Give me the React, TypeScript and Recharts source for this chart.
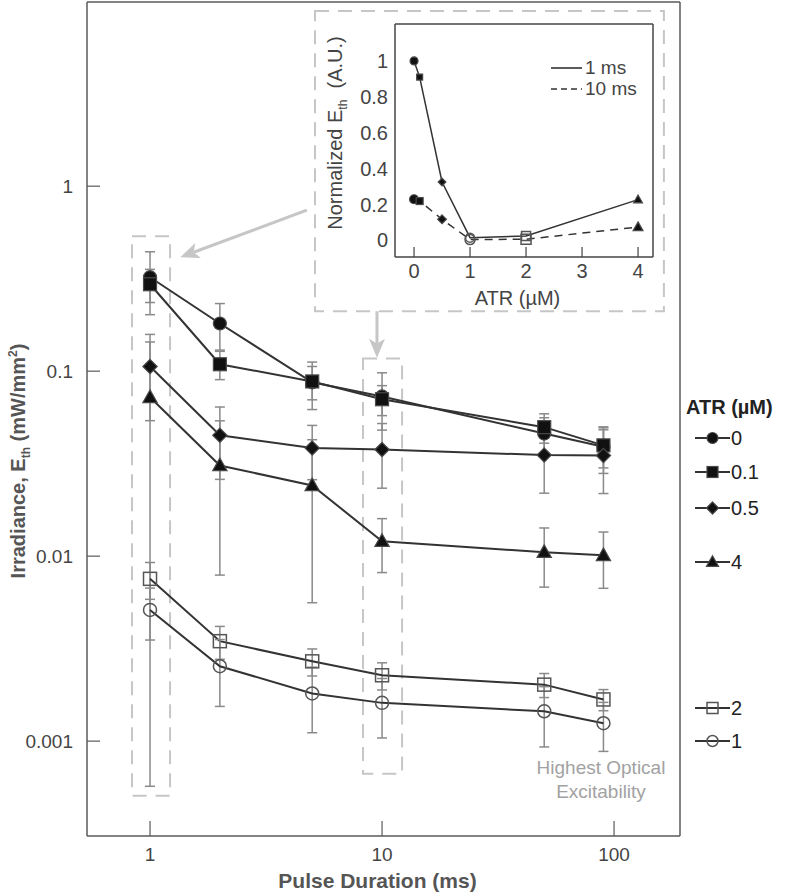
import React from "react";
import {
  LineChart,
  Line,
  XAxis,
  YAxis,
  ErrorBar,
  ReferenceArea,
  ReferenceLine,
  Legend,
} from "recharts";

// main panel: threshold irradiance vs pulse duration, one curve per ATR level
const pulseDurations = [1, 2, 5, 10, 50, 90];
const atrLevels = ["0", "0.1", "0.5", "4", "2", "1"];

const eth0 = [0.322, 0.181, 0.087, 0.073, 0.046, 0.039];
const sd0 = [0.12, 0.051, 0.025, 0.025, 0.01, 0.011];
const eth01 = [0.295, 0.109, 0.088, 0.0705, 0.0498, 0.0397];
const sd01 = [0.06, 0.019, 0.018, 0.013, 0.009, 0.0097];
const eth05 = [0.106, 0.045, 0.0384, 0.0377, 0.0352, 0.035];
const sd05 = [0.052, 0.019, 0.0125, 0.0144, 0.0133, 0.0132];
const eth4 = [0.0722, 0.0309, 0.0241, 0.01205, 0.0105, 0.0101];
const sd4 = [0.07163, 0.023, 0.0185, 0.0039, 0.0037, 0.0034];
const eth2 = [0.00754, 0.00347, 0.0027, 0.00227, 0.00202, 0.00168];
const sd2 = [0.0017, 0.0007, 0.00045, 0.00038, 0.0003, 0.00022];
const eth1 = [0.00512, 0.00254, 0.00181, 0.00161, 0.00145, 0.00125];
const sd1 = [0.0016, 0.001, 0.0007, 0.00057, 0.00052, 0.00037];

const durationTicks = [1, 10, 100];
const irradianceTicks = [0.001, 0.01, 0.1, 1];

// inset: normalized threshold vs ATR concentration
const atrConc = [0, 0.1, 0.5, 1, 2, 4];
const norm1ms = [1.0, 0.91, 0.325, 0.015, 0.024, 0.227];
const norm10ms = [0.229, 0.219, 0.117, 0.004, 0.006, 0.074];
const normTicks = [0, 0.2, 0.4, 0.6, 0.8, 1];
const atrTicks = [0, 1, 2, 3, 4];

const FONT = '"Liberation Sans", Arial, sans-serif';
const FRAME = "#5a5a5a";
const LINE = "#333";
const BAR = "#8a8a8a";
const ANNOT = "#c6c6c6";

type Shape = "circle" | "square" | "diamond" | "triangle" | "openSquare" | "openCircle";

const SHAPES: Record<string, Shape> = {
  "0": "circle",
  "0.1": "square",
  "0.5": "diamond",
  "4": "triangle",
  "2": "openSquare",
  "1": "openCircle",
};

const INSET_SIZE: Record<Shape, number> = {
  circle: 8,
  square: 6,
  diamond: 7,
  triangle: 8,
  openSquare: 9,
  openCircle: 9,
};

const LEGEND_ROWS = [438, 472, 508, 562, 708, 741];

const ethBySeries = [eth0, eth01, eth05, eth4, eth2, eth1];
const sdBySeries = [sd0, sd01, sd05, sd4, sd2, sd1];

const series = atrLevels.map((atr, s) => ({
  atr,
  shape: SHAPES[atr],
  data: pulseDurations.map((t, i) => ({
    t,
    v: ethBySeries[s][i],
    e: sdBySeries[s][i],
  })),
}));

const insetData1 = atrConc.map((c, i) => ({ c, v: norm1ms[i] }));
const insetData10 = atrConc.map((c, i) => ({ c, v: norm10ms[i] }));

function Marker({ shape, cx, cy, size }: { shape: Shape; cx?: number; cy?: number; size: number }) {
  if (cx == null || cy == null || isNaN(cx) || isNaN(cy)) return null;
  const h = size / 2;
  const filled = { fill: "#111", stroke: "#4a4a4a", strokeWidth: 1.2 };
  const open = { fill: "none", stroke: "#555", strokeWidth: 1.5 };
  switch (shape) {
    case "circle":
      return <circle cx={cx} cy={cy} r={h} {...filled} />;
    case "square":
      return <rect x={cx - h} y={cy - h} width={size} height={size} {...filled} />;
    case "diamond":
      return (
        <polygon
          points={`${cx},${cy - h * 1.1} ${cx + h * 1.1},${cy} ${cx},${cy + h * 1.1} ${cx - h * 1.1},${cy}`}
          {...filled}
        />
      );
    case "triangle":
      return (
        <polygon
          points={`${cx},${cy - h * 1.15} ${cx + h * 1.1},${cy + h * 0.8} ${cx - h * 1.1},${cy + h * 0.8}`}
          {...filled}
        />
      );
    case "openSquare":
      return <rect x={cx - h} y={cy - h} width={size} height={size} {...open} />;
    default:
      return <circle cx={cx} cy={cy} r={h} {...open} />;
  }
}

function Arrow(props: any) {
  const { x1, y1, x2, y2 } = props;
  if ([x1, y1, x2, y2].some((v) => v == null || isNaN(v))) return null;
  const ang = Math.atan2(y2 - y1, x2 - x1);
  const len = 19;
  const half = 8;
  const bx = x2 - len * Math.cos(ang);
  const by = y2 - len * Math.sin(ang);
  const nx = -Math.sin(ang) * half;
  const ny = Math.cos(ang) * half;
  const notchX = x2 - len * 0.75 * Math.cos(ang);
  const notchY = y2 - len * 0.75 * Math.sin(ang);
  return (
    <g>
      <line x1={x1} y1={y1} x2={notchX} y2={notchY} stroke={ANNOT} strokeWidth={3} />
      <polygon
        points={`${x2},${y2} ${bx + nx},${by + ny} ${notchX},${notchY} ${bx - nx},${by - ny}`}
        fill={ANNOT}
      />
    </g>
  );
}

const dashBox = {
  fill: "none",
  fillOpacity: 0,
  stroke: ANNOT,
  strokeWidth: 2,
  strokeDasharray: "14 9",
  ifOverflow: "visible" as const,
};

function AtrLegend() {
  return (
    <div style={{ position: "relative", width: 93, height: 370, fontFamily: FONT, color: "#222" }}>
      <div style={{ position: "absolute", left: -8, top: 0, fontWeight: 700, fontSize: 20, lineHeight: "28px", whiteSpace: "nowrap" }}>
        ATR (µM)
      </div>
      {series.map((s, i) => (
        <div
          key={s.atr}
          style={{
            position: "absolute",
            left: 0,
            top: LEGEND_ROWS[i] - 393 - 12,
            height: 24,
            display: "flex",
            alignItems: "center",
            whiteSpace: "nowrap",
          }}
        >
          <svg width={37} height={24}>
            <line x1={1} y1={12} x2={36} y2={12} stroke={LINE} strokeWidth={1.8} />
            <Marker shape={s.shape} cx={18.5} cy={12} size={11} />
          </svg>
          <span style={{ fontSize: 20, lineHeight: "24px" }}>{s.atr}</span>
        </div>
      ))}
    </div>
  );
}

function InsetLegend() {
  return (
    <div style={{ fontFamily: FONT, color: "#444", fontSize: 19 }}>
      {[
        { label: "1 ms", dash: undefined },
        { label: "10 ms", dash: "6 4" },
      ].map((r) => (
        <div key={r.label} style={{ display: "flex", alignItems: "center", height: 21 }}>
          <svg width={36} height={21}>
            <line x1={2} y1={11} x2={33} y2={11} stroke={LINE} strokeWidth={1.6} strokeDasharray={r.dash} />
          </svg>
          <span style={{ lineHeight: "21px" }}>{r.label}</span>
        </div>
      ))}
    </div>
  );
}

export default function App() {
  return (
    <div style={{ position: "absolute", left: 0, top: 0, width: 787, height: 895, background: "#fff" }}>
      <LineChart width={787} height={895} margin={{ top: 1, right: 0, bottom: 0, left: 0 }}>
        <XAxis
          xAxisId="top"
          orientation="top"
          dataKey="t"
          type="number"
          scale="log"
          domain={[0.535, 192.4]}
          allowDataOverflow
          height={1}
          tick={false}
          tickLine={false}
          axisLine={{ stroke: FRAME, strokeWidth: 1.5 }}
        />
        <XAxis
          dataKey="t"
          type="number"
          scale="log"
          domain={[0.535, 192.4]}
          allowDataOverflow
          ticks={durationTicks}
          interval={0}
          height={59}
          tickSize={-15}
          tickMargin={27}
          tick={{ fill: "#444", fontSize: 19, fontFamily: FONT }}
          tickLine={{ stroke: FRAME, strokeWidth: 1.2 }}
          axisLine={{ stroke: FRAME, strokeWidth: 1.5 }}
          label={(p: any) => (
            <text
              x={p.viewBox.x + p.viewBox.width / 2 - 6}
              y={888}
              textAnchor="middle"
              fill="#555"
              fontSize={21}
              fontWeight={700}
              fontFamily={FONT}
            >
              Pulse Duration (ms)
            </text>
          )}
        />
        <YAxis
          type="number"
          scale="log"
          domain={[0.000307, 9.9]}
          allowDataOverflow
          ticks={irradianceTicks}
          interval={0}
          width={87}
          tickSize={-13}
          tickMargin={27}
          tickFormatter={(v: number) => String(v)}
          tick={{ fill: "#444", fontSize: 19, fontFamily: FONT }}
          tickLine={{ stroke: FRAME, strokeWidth: 1.2 }}
          axisLine={{ stroke: FRAME, strokeWidth: 1.5 }}
          label={() => (
            <text
              transform="translate(25,461) rotate(-90)"
              textAnchor="middle"
              fill="#555"
              fontSize={20}
              fontWeight={700}
              fontFamily={FONT}
            >
              Irradiance, E
              <tspan fontSize={12} dy={5}>th</tspan>
              <tspan dy={-5}> (mW/mm</tspan>
              <tspan fontSize={12} dy={-8}>2</tspan>
              <tspan dy={8}>)</tspan>
            </text>
          )}
        />
        <YAxis
          yAxisId="right"
          orientation="right"
          type="number"
          scale="log"
          domain={[0.000307, 9.9]}
          allowDataOverflow
          ticks={irradianceTicks}
          interval={0}
          width={107}
          tickSize={-14}
          tick={false}
          tickLine={{ stroke: FRAME, strokeWidth: 1.2 }}
          axisLine={{ stroke: FRAME, strokeWidth: 1.5 }}
        />

        <ReferenceArea x1={0.836} x2={1.22} y1={0.000507} y2={0.536} {...dashBox} />
        <ReferenceArea x1={8.28} x2={12.2} y1={0.000667} y2={0.117} {...dashBox} />
        <ReferenceArea x1={5.14} x2={164} y1={0.211} y2={8.85} {...dashBox} />
        <ReferenceLine
          segment={[{ x: 4.74, y: 0.742 }, { x: 1.35, y: 0.413 }]}
          shape={Arrow}
          ifOverflow="visible"
        />
        <ReferenceLine
          segment={[{ x: 9.51, y: 0.211 }, { x: 9.51, y: 0.118 }]}
          shape={Arrow}
          ifOverflow="visible"
        />

        {series.map((s) => (
          <Line
            key={s.atr}
            data={s.data}
            dataKey="v"
            name={s.atr}
            type="linear"
            stroke={LINE}
            strokeWidth={2}
            isAnimationActive={false}
            activeDot={false}
            dot={(p: any) => (
              <Marker key={`${s.atr}-${p.index}`} shape={s.shape} cx={p.cx} cy={p.cy} size={13} />
            )}
          >
            <ErrorBar dataKey="e" direction="y" width={5} stroke={BAR} strokeWidth={1.5} />
          </Line>
        ))}

        <Legend
          layout="vertical"
          align="center"
          verticalAlign="middle"
          wrapperStyle={{ left: 694, top: 393, width: 93 }}
          content={() => <AtrLegend />}
        />
      </LineChart>

      <div
        style={{
          position: "absolute",
          left: 536,
          top: 756,
          width: 130,
          textAlign: "center",
          fontFamily: FONT,
          fontSize: 19,
          lineHeight: "24px",
          color: "#a2a2a2",
        }}
      >
        Highest Optical
        <br />
        Excitability
      </div>

      <div style={{ position: "absolute", left: 300, top: 0 }}>
        <LineChart width={365} height={320} margin={{ top: 23, right: 11, bottom: 0, left: 0 }}>
          <XAxis
            xAxisId="top"
            orientation="top"
            dataKey="c"
            type="number"
            domain={[-0.34, 4.267]}
            allowDataOverflow
            height={1}
            tick={false}
            tickLine={false}
            axisLine={{ stroke: "#444", strokeWidth: 1.5 }}
          />
          <XAxis
            dataKey="c"
            type="number"
            domain={[-0.34, 4.267]}
            allowDataOverflow
            ticks={atrTicks}
            interval={0}
            height={63}
            tickSize={-10}
            tickMargin={17}
            tick={{ fill: "#444", fontSize: 20, fontFamily: FONT }}
            tickLine={{ stroke: "#444", strokeWidth: 1.2 }}
            axisLine={{ stroke: "#444", strokeWidth: 1.5 }}
            label={(p: any) => (
              <text
                x={p.viewBox.x + p.viewBox.width / 2 - 6.5}
                y={305}
                textAnchor="middle"
                fill="#444"
                fontSize={20}
                fontFamily={FONT}
              >
                ATR (µM)
              </text>
            )}
          />
          <YAxis
            type="number"
            domain={[-0.093, 1.206]}
            allowDataOverflow
            ticks={normTicks}
            interval={0}
            width={95}
            tickSize={0}
            tickMargin={7}
            tickLine={false}
            tickFormatter={(v: number) => String(v)}
            tick={{ fill: "#444", fontSize: 20, fontFamily: FONT }}
            axisLine={{ stroke: "#444", strokeWidth: 1.5 }}
            label={() => (
              <text
                transform="translate(42,133) rotate(-90)"
                textAnchor="middle"
                fill="#444"
                fontSize={20}
                fontFamily={FONT}
              >
                Normalized E
                <tspan fontSize={12} dy={5}>th</tspan>
                <tspan dy={-5}>{"\u00a0\u00a0(A.U.)"}</tspan>
              </text>
            )}
          />
          <YAxis
            yAxisId="right"
            orientation="right"
            type="number"
            domain={[-0.093, 1.206]}
            allowDataOverflow
            width={1}
            tick={false}
            tickLine={false}
            axisLine={{ stroke: "#444", strokeWidth: 1.5 }}
          />
          <Line
            data={insetData10}
            dataKey="v"
            name="10 ms"
            type="linear"
            stroke={LINE}
            strokeWidth={1.5}
            strokeDasharray="8 6"
            isAnimationActive={false}
            activeDot={false}
            dot={(p: any) => {
              const shape = SHAPES[String(p.payload.c)];
              return <Marker key={`d10-${p.index}`} shape={shape} cx={p.cx} cy={p.cy} size={INSET_SIZE[shape] + 1} />;
            }}
          />
          <Line
            data={insetData1}
            dataKey="v"
            name="1 ms"
            type="linear"
            stroke={LINE}
            strokeWidth={1.5}
            isAnimationActive={false}
            activeDot={false}
            dot={(p: any) => {
              const shape = SHAPES[String(p.payload.c)];
              return <Marker key={`d1-${p.index}`} shape={shape} cx={p.cx} cy={p.cy} size={INSET_SIZE[shape]} />;
            }}
          />
          <Legend
            layout="vertical"
            align="center"
            verticalAlign="middle"
            wrapperStyle={{ left: 249, top: 57, width: 100 }}
            content={() => <InsetLegend />}
          />
        </LineChart>
      </div>
    </div>
  );
}
